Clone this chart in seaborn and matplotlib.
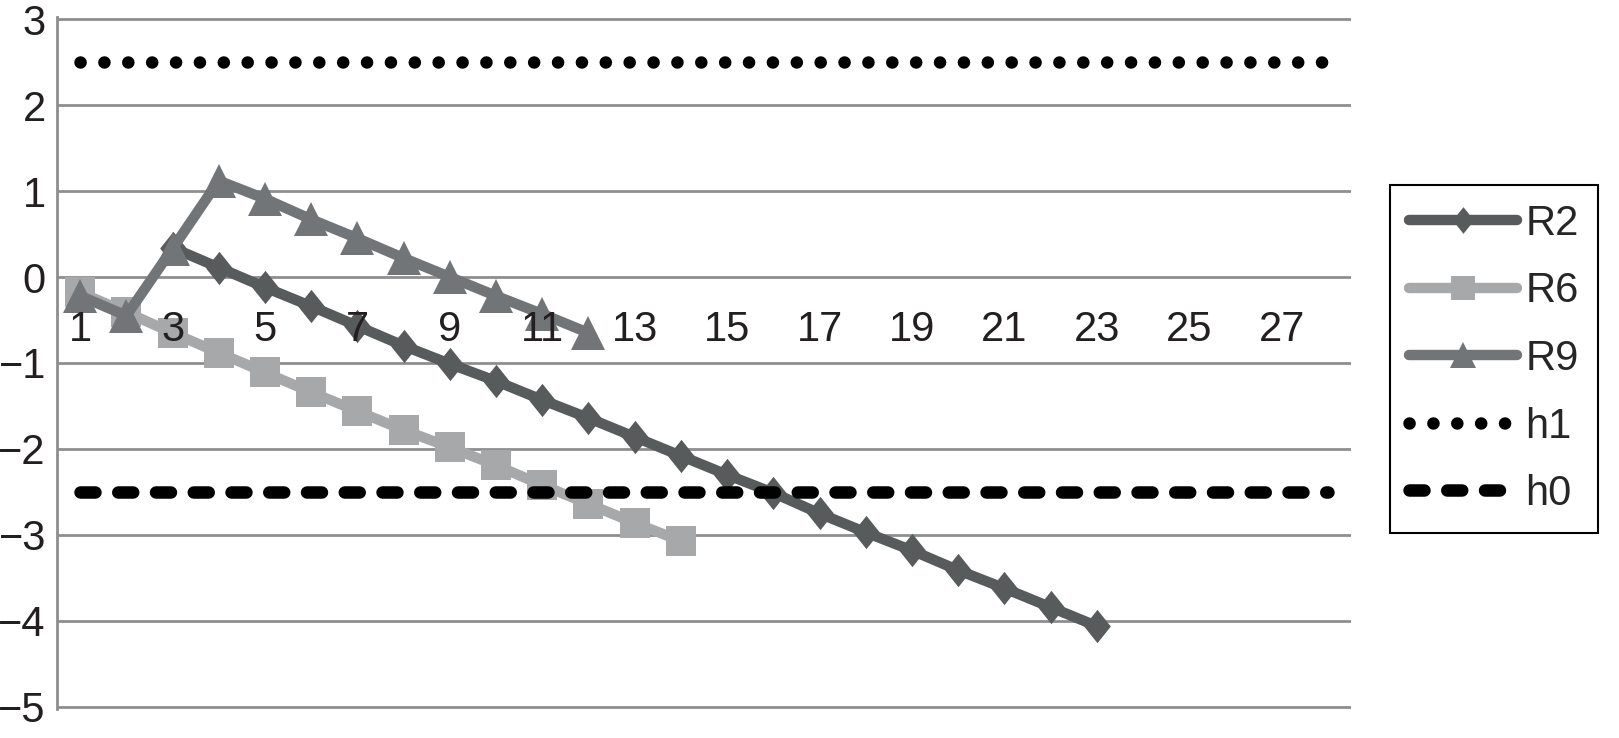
import numpy as np
import pandas as pd
import matplotlib
matplotlib.use("Agg")
from matplotlib import pyplot as plt
import seaborn as sns

# categories on the x axis (1..28), only odd ones labelled
categorias = list(range(1, 29))
rotulos_x = [str(c) if c % 2 == 1 else "" for c in categorias]

# series
x_r2 = list(range(3, 24))
r2 = [0.34, 0.11, -0.12, -0.34, -0.57, -0.80, -1.01, -1.21, -1.43, -1.64, -1.86,
      -2.08, -2.30, -2.51, -2.75, -2.97, -3.18, -3.41, -3.62, -3.84, -4.06]

x_r6 = list(range(1, 15))
r6 = [-0.18, -0.41, -0.65, -0.88, -1.11, -1.34, -1.56, -1.78, -1.98, -2.19,
      -2.42, -2.64, -2.86, -3.07]

x_r9 = list(range(1, 13))
r9 = [-0.22, -0.45, 0.33, 1.12, 0.91, 0.67, 0.45, 0.22, 0.0, -0.22, -0.43, -0.65]

h1 = 2.5
h0 = -2.5
y_ticks = [-5, -4, -3, -2, -1, 0, 1, 2, 3]

sns.set_style("white")
plt.rcParams["font.family"] = ["Liberation Sans", "DejaVu Sans"]

fig = plt.figure(figsize=(16.19, 7.38), dpi=100)
ax = fig.add_axes([57 / 1619, 1 - 708.7 / 738, (1351 - 57) / 1619, (708.7 - 17.3) / 738])

grid_cor = "#8e8e8e"
lw = 7.5
losango = [(0, 1), (0.8, 0), (0, -1), (-0.8, 0), (0, 1)]

sns.lineplot(x=x_r2, y=r2, ax=ax, color="#575b5c", lw=lw, marker=losango, markersize=24,
             markeredgewidth=0, solid_capstyle="round", label="R2", zorder=3)
sns.lineplot(x=x_r6, y=r6, ax=ax, color="#a6a8aa", lw=lw, marker="s", markersize=22,
             markeredgewidth=0, solid_capstyle="round", label="R6", zorder=4)
sns.lineplot(x=x_r9, y=r9, ax=ax, color="#727577", lw=lw, marker="^", markersize=24,
             markeredgewidth=0, solid_capstyle="round", label="R9", zorder=5)
ax.plot([categorias[0], categorias[-1]], [h1, h1], color="black", lw=9,
        linestyle=(0, (0.01, 1.9)), dash_capstyle="round", label="h1", zorder=6)
ax.plot([categorias[0], categorias[-1]], [h0, h0], color="black", lw=9,
        linestyle=(0, (1.2, 1.82)), dash_capstyle="round", label="h0", zorder=6)

ax.set_xlim(0.5, 28.5)
ax.set_ylim(-5.02, 3.02)
ax.set_yticks(y_ticks)
ax.set_yticklabels([str(v).replace("-", "\u2212") for v in y_ticks])
ax.set_xticks(categorias)
ax.set_xticklabels(rotulos_x)

ax.yaxis.grid(True, color=grid_cor, lw=2)
ax.xaxis.grid(False)
# grid under the series, category labels over them
ax.yaxis.set_zorder(0.5)
ax.xaxis.set_zorder(10)
for lado in ["top", "right"]:
    ax.spines[lado].set_visible(False)
ax.spines["left"].set_color(grid_cor)
ax.spines["left"].set_linewidth(2)
ax.spines["bottom"].set_position(("data", 0))
ax.spines["bottom"].set_visible(False)
ax.tick_params(axis="both", length=0, labelsize=30, colors="#231f20")
ax.tick_params(axis="x", pad=24)
ax.tick_params(axis="y", pad=8)
ax.set_xlabel("")
ax.set_ylabel("")

leg = ax.legend(loc="center left", bbox_to_anchor=(1390 / 1619, 1 - 359 / 738),
                bbox_transform=fig.transFigure, fontsize=30, frameon=True, fancybox=False,
                edgecolor="black", framealpha=1, handlelength=2.6, handletextpad=0.2,
                labelspacing=0.66, borderpad=0.45, borderaxespad=0, markerscale=0.8)
leg.get_frame().set_linewidth(1.5)
leg.set_zorder(20)

plt.savefig("out.png", dpi=100)
